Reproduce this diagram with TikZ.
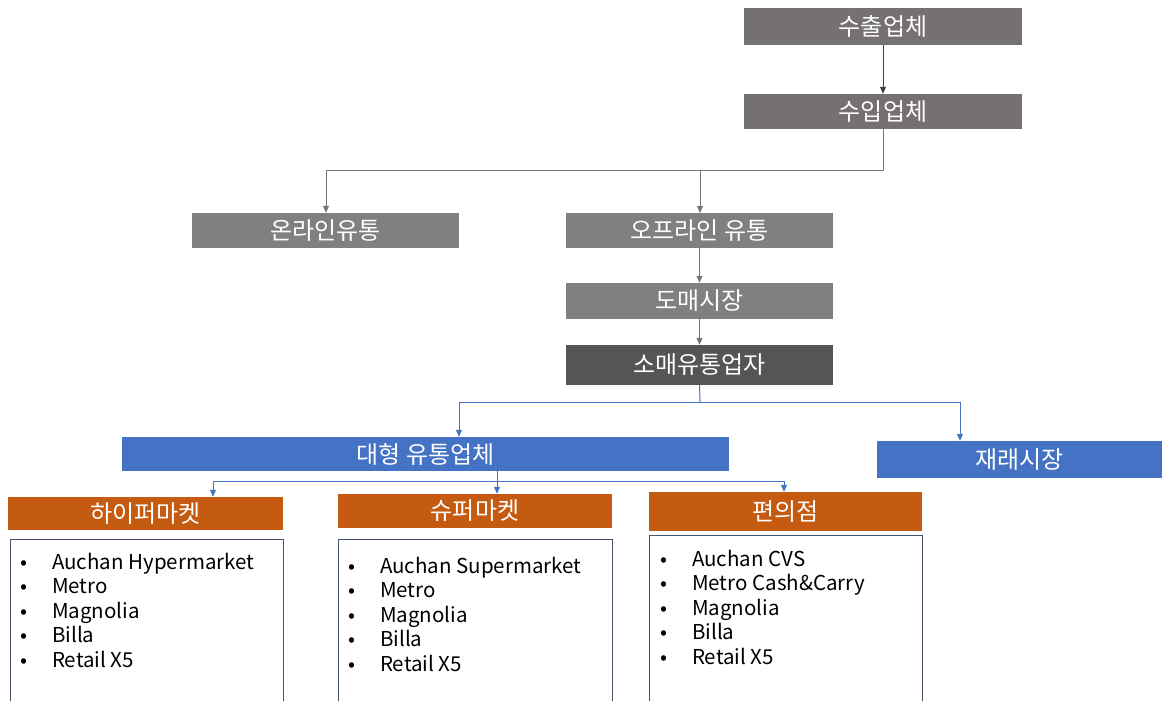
\documentclass[tikz,border=0pt]{standalone}
\usepackage{fontspec}
\setmainfont{Noto Sans CJK KR}
\usetikzlibrary{arrows.meta}
\definecolor{gExp}{RGB}{118,113,113}
\definecolor{gMid}{RGB}{128,128,128}
\definecolor{gDark}{RGB}{85,85,85}
\definecolor{bBlue}{RGB}{68,114,196}
\definecolor{oOrange}{RGB}{197,90,17}
\definecolor{lineGray}{RGB}{118,118,118}
\definecolor{lineDark}{RGB}{64,64,64}
\definecolor{frameBlue}{RGB}{68,84,106}
\tikzset{
  box/.style={rectangle, inner sep=0pt, text=white, font=\fontsize{24}{26}\selectfont},
  tip/.style={-{Triangle[length=7pt,width=6pt]}},
  grayline/.style={draw=lineGray, line width=1pt},
  blueline/.style={draw=bBlue, line width=1pt},
  listbox/.style={rectangle, draw=frameBlue, line width=0.8pt, fill=white, inner sep=0pt},
  listtext/.style={inner sep=0pt, text=black, align=left, font=\fontsize{20.5}{24.5}\selectfont},
}
\begin{document}
\begin{tikzpicture}[x=1pt,y=-1pt]
\useasboundingbox (0,0) rectangle (1162,701);
% top boxes
\node[box, fill=gExp, minimum width=278pt, minimum height=37pt] (exp) at (883,26.5) {수출업체};
\node[box, fill=gExp, minimum width=278pt, minimum height=35pt] (imp) at (883,111.5) {수입업체};
\node[box, fill=gMid, minimum width=267pt, minimum height=35pt] (online) at (325.5,230.5) {온라인유통};
\node[box, fill=gMid, minimum width=267pt, minimum height=35pt] (offline) at (699.5,230.5) {오프라인 유통};
\node[box, fill=gMid, minimum width=267pt, minimum height=36pt] (whole) at (699.5,301) {도매시장};
\node[box, fill=gDark, minimum width=267pt, minimum height=40pt] (retail) at (699.5,365) {소매유통업자};
\node[box, fill=bBlue, minimum width=607pt, minimum height=34pt] (large) at (425.5,454) {대형 유통업체};
\node[box, fill=bBlue, minimum width=285pt, minimum height=37pt] (trad) at (1019.5,459.5) {재래시장};
\node[box, fill=oOrange, minimum width=275pt, minimum height=33pt] (hyper) at (145.5,513.5) {하이퍼마켓};
\node[box, fill=oOrange, minimum width=274pt, minimum height=34pt] (super) at (475,511) {슈퍼마켓};
\node[box, fill=oOrange, minimum width=273pt, minimum height=39pt] (cvs) at (785.5,511.5) {편의점};
% list boxes
\node[listbox, minimum width=273pt, minimum height=170pt, anchor=north] (hyperL) at (146.5,539) {};
\node[listbox, minimum width=274pt, minimum height=170pt, anchor=north] (superL) at (475,539) {};
\node[listbox, minimum width=273pt, minimum height=174pt, anchor=north] (cvsL) at (785.5,535) {};
\node[listtext, anchor=north west] (hyperT) at (20,552) {\begin{tabular}{@{}l@{\hspace{25pt}}l@{}}•&Auchan Hypermarket\\•&Metro\\•&Magnolia\\•&Billa\\•&Retail X5\end{tabular}};
\node[listtext, anchor=north west] (superT) at (348,556) {\begin{tabular}{@{}l@{\hspace{25pt}}l@{}}•&Auchan Supermarket\\•&Metro\\•&Magnolia\\•&Billa\\•&Retail X5\end{tabular}};
\node[listtext, anchor=north west] (cvsT) at (660,549) {\begin{tabular}{@{}l@{\hspace{25pt}}l@{}}•&Auchan CVS\\•&Metro Cash\&Carry\\•&Magnolia\\•&Billa\\•&Retail X5\end{tabular}};
% connectors
\draw[draw=lineDark, line width=1pt, tip] (exp.south) -- (imp.north);
\coordinate (j1) at (883,170);
\draw[grayline, tip] (imp.south) -- (j1) -| (online.north -| 326,0);
\coordinate (j1b) at (700,170);
\draw[grayline, tip] (j1b) -- (700,213);
\draw[grayline, tip] (offline.south) -- (whole.north);
\draw[grayline, tip] (whole.south) -- (retail.north);
% blue connectors
\coordinate (j2) at (700,402);
\coordinate (j2l) at (459,402);
\coordinate (j2r) at (960,402);
\draw[blueline] (retail.south) -- (j2);
\draw[blueline, tip] (j2) -- (j2l) -- (j2l |- large.north);
\draw[blueline, tip] (j2) -- (j2r) -- (j2r |- trad.north);
\coordinate (j3) at (497,481);
\coordinate (j3l) at (213,481);
\coordinate (j3r) at (784,481);
\draw[blueline] (j3 |- large.south) -- (j3);
\draw[blueline, tip] (j3) -- (j3l) -- (j3l |- hyper.north);
\draw[blueline, tip] (j3) -- (j3 |- super.north);
\draw[blueline, tip] (j3) -- (j3r) -- (j3r |- cvs.north);
\end{tikzpicture}
\end{document}
